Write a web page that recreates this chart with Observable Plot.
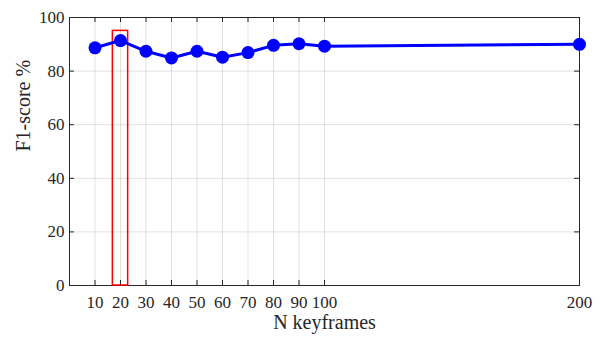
<!DOCTYPE html>
<html>
<head>
<meta charset="utf-8">
<script src="https://cdn.jsdelivr.net/npm/d3@7"></script>
<script src="https://cdn.jsdelivr.net/npm/@observablehq/plot@0.6"></script>
<style>
  html, body { margin: 0; padding: 0; background: #fff; }
  svg { display: block; }
</style>
</head>
<body>
<div id="chart"></div>
<script>
const keyframes = [10, 20, 30, 40, 50, 60, 70, 80, 90, 100, 200];
const f1 = [88.7, 91.4, 87.4, 84.9, 87.4, 85.2, 86.9, 89.6, 90.2, 89.3, 90.0];
const xTicks = [10, 20, 30, 40, 50, 60, 70, 80, 90, 100, 200];
const yTicks = [0, 20, 40, 60, 80, 100];
const highlight = [{x1: 17, x2: 23, y1: 0, y2: 95}];

const data = keyframes.map((k, i) => ({k, f: f1[i]}));
const font = "'Liberation Serif', 'Times New Roman', serif";

const W = 603, H = 338, ML = 69, MR = 24, MT = 17, MB = 53;
const innerW = W - ML - MR, innerH = H - MT - MB, TL = 5;

const chart = Plot.plot({
  width: W,
  height: H,
  marginLeft: ML,
  marginRight: MR,
  marginTop: MT,
  marginBottom: MB,
  style: {fontFamily: font, fontSize: "17px", color: "#262626", background: "#fff"},
  x: {domain: [0, 200], ticks: xTicks},
  y: {domain: [0, 100], ticks: yTicks},
  marks: [
    Plot.gridX(xTicks, {stroke: "#000", strokeOpacity: 0.12, strokeWidth: 1}),
    Plot.gridY(yTicks, {stroke: "#000", strokeOpacity: 0.12, strokeWidth: 1}),
    Plot.axisX(xTicks, {anchor: "bottom", tickSize: 0, tickPadding: 10, fontSize: 17, label: null}),
    Plot.axisY(yTicks, {anchor: "left", tickSize: 0, tickPadding: 5, fontSize: 17, label: null}),
    // inward ticks on all four sides
    Plot.ruleX(xTicks, {x: d => d, insetTop: innerH - TL, stroke: "#262626"}),
    Plot.ruleX(xTicks, {x: d => d, insetBottom: innerH - TL, stroke: "#262626"}),
    Plot.ruleY(yTicks, {y: d => d, insetRight: innerW - TL, stroke: "#262626"}),
    Plot.ruleY(yTicks, {y: d => d, insetLeft: innerW - TL, stroke: "#262626"}),
    Plot.frame({stroke: "#262626", strokeWidth: 1}),
    Plot.rect(highlight, {x1: "x1", x2: "x2", y1: "y1", y2: "y2", stroke: "#ff0000", strokeWidth: 1.5, fill: "none"}),
    Plot.line(data, {x: "k", y: "f", stroke: "#0000ff", strokeWidth: 3}),
    Plot.dot(data, {x: "k", y: "f", r: 6.5, fill: "#0000ff", stroke: "none"}),
    Plot.text(["N keyframes"], {frameAnchor: "bottom", dy: 43, fontSize: 20, fill: "#262626"}),
    Plot.text(["F1-score %"], {frameAnchor: "left", dx: -46, rotate: -90, fontSize: 20, fill: "#262626"})
  ]
});
document.getElementById("chart").appendChild(chart);
</script>
</body>
</html>
